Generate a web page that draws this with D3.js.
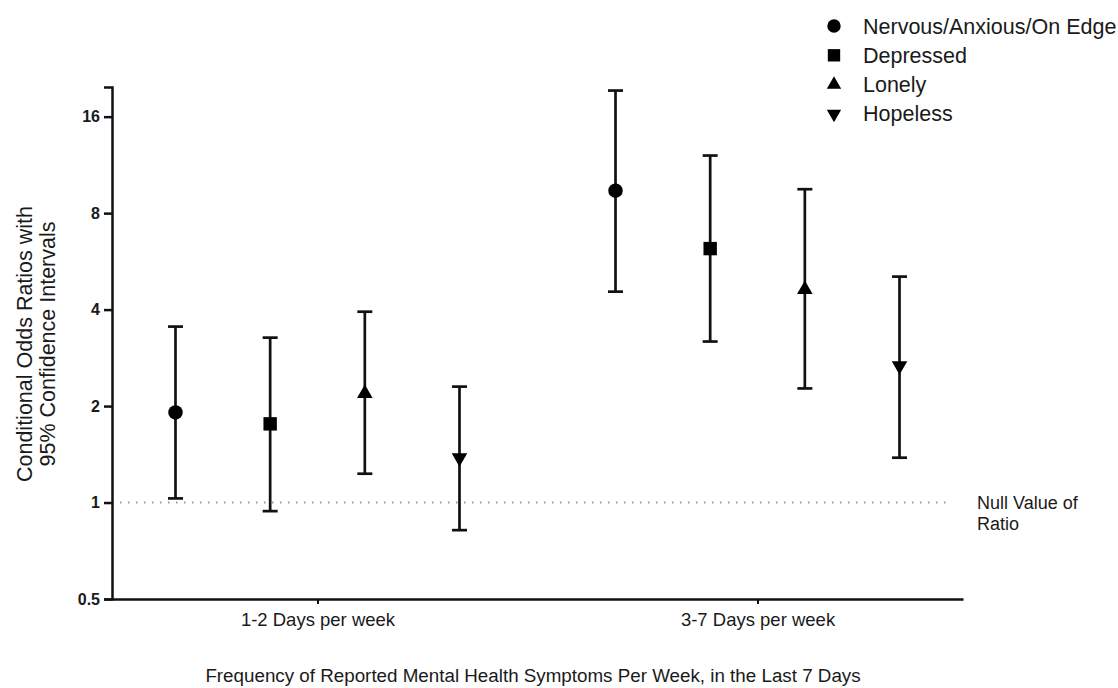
<!DOCTYPE html>
<html>
<head>
<meta charset="utf-8">
<script src="https://cdn.jsdelivr.net/npm/d3@7"></script>
<style>
  body { margin: 0; background: #fff; }
  text { font-family: "Liberation Sans", Arial, sans-serif; fill: #1a1a1a; }
</style>
</head>
<body>
<div class="chart"></div>
<script>
// data
const groups = ["1-2 Days per week", "3-7 Days per week"];
const symptoms = ["Nervous/Anxious/On Edge", "Depressed", "Lonely", "Hopeless"];
const oddsRatio = [[1.91, 1.76, 2.19, 1.38], [9.4, 6.2, 4.62, 2.67]];
const ciLow = [[1.03, 0.94, 1.23, 0.82], [4.55, 3.18, 2.27, 1.38]];
const ciHigh = [[3.54, 3.27, 3.94, 2.30], [19.3, 12.1, 9.5, 5.07]];
const yTicks = [0.5, 1, 2, 4, 8, 16];

const width = 1118;
const height = 688;
const svg = d3
  .select(".chart")
  .append("svg")
  .attr("width", width)
  .attr("height", height);

const x = d3.scalePoint().domain(groups).range([112, 963]).padding(0.467);
const offset = d3.scalePoint().domain(symptoms).range([-142, 142]);
const y = d3.scaleLog().base(2).domain([0.5, 19.8]).range([599, 87]);

const shapes = [d3.symbolCircle, d3.symbolSquare, d3.symbolTriangle, d3.symbolTriangle];
const sizes = [165, 180, 105, 105];

// points table
const rows = [];
groups.forEach((g, gi) => {
  symptoms.forEach((s, si) => {
    rows.push({ g: g, s: s, si: si, or: oddsRatio[gi][si], lo: ciLow[gi][si], hi: ciHigh[gi][si] });
  });
});

// null line
svg.append("line")
  .attr("x1", 112).attr("x2", 952)
  .attr("y1", y(1)).attr("y2", y(1))
  .attr("stroke", "#9a9a9a")
  .attr("stroke-width", 2)
  .attr("stroke-dasharray", "1.5,6.5");

svg.append("text").attr("x", 977).attr("y", y(1) + 6).attr("font-size", 18).text("Null Value of");
svg.append("text").attr("x", 977).attr("y", y(1) + 27).attr("font-size", 18).text("Ratio");

// axes
const yAxis = svg.append("g")
  .attr("transform", "translate(112,0)")
  .call(d3.axisLeft(y).tickValues(yTicks).tickFormat(d3.format("")).tickSize(8).tickPadding(4));
yAxis.select(".domain").attr("stroke", "#111").attr("stroke-width", 2.5);
yAxis.selectAll(".tick line").attr("stroke", "#111").attr("stroke-width", 2.5);
yAxis.selectAll(".tick text")
  .attr("font-size", 16).attr("font-weight", "bold").attr("fill", "#1a1a1a")
  .style("font-family", "'Liberation Sans', Arial, sans-serif");

const xAxis = svg.append("g")
  .attr("transform", "translate(0,599)")
  .call(d3.axisBottom(x).tickSize(5).tickPadding(9).tickSizeOuter(0));
xAxis.select(".domain").attr("stroke", "#111").attr("stroke-width", 2.5);
xAxis.selectAll(".tick line").attr("stroke", "#111").attr("stroke-width", 2);
xAxis.selectAll(".tick text")
  .attr("font-size", 18.5).attr("fill", "#1a1a1a")
  .style("font-family", "'Liberation Sans', Arial, sans-serif");

// error bars
const bars = svg.selectAll("g.bar")
  .data(rows)
  .enter()
  .append("g")
  .attr("class", "bar")
  .attr("transform", (d) => "translate(" + (x(d.g) + offset(d.s)) + ",0)");

bars.append("line")
  .attr("y1", (d) => y(d.lo)).attr("y2", (d) => y(d.hi))
  .attr("stroke", "#111").attr("stroke-width", 2.7);
bars.append("line")
  .attr("x1", -7.5).attr("x2", 7.5)
  .attr("y1", (d) => y(d.hi)).attr("y2", (d) => y(d.hi))
  .attr("stroke", "#111").attr("stroke-width", 2.7);
bars.append("line")
  .attr("x1", -7.5).attr("x2", 7.5)
  .attr("y1", (d) => y(d.lo)).attr("y2", (d) => y(d.lo))
  .attr("stroke", "#111").attr("stroke-width", 2.7);
bars.append("path")
  .attr("d", (d) => d3.symbol().type(shapes[d.si]).size(sizes[d.si])())
  .attr("transform", (d) => "translate(0," + y(d.or) + ")" + (d.si === 3 ? " rotate(180)" : ""))
  .attr("fill", "#000");

// legend
const legend = svg.selectAll("g.legend")
  .data(symptoms)
  .enter()
  .append("g")
  .attr("class", "legend")
  .attr("transform", (d, i) => "translate(834," + (26 + i * 29.3) + ")");
legend.append("path")
  .attr("d", (d, i) => d3.symbol().type(shapes[i]).size(sizes[i] * 0.85)())
  .attr("transform", (d, i) => (i === 3 ? "rotate(180)" : ""))
  .attr("fill", "#000");
legend.append("text")
  .attr("x", 29).attr("y", 7.5)
  .attr("font-size", 21.5)
  .text((d) => d);

// axis titles
svg.append("text")
  .attr("transform", "translate(32,344) rotate(-90)")
  .attr("text-anchor", "middle")
  .attr("font-size", 21.5)
  .text("Conditional Odds Ratios with");
svg.append("text")
  .attr("transform", "translate(55,344) rotate(-90)")
  .attr("text-anchor", "middle")
  .attr("font-size", 21.5)
  .text("95% Confidence Intervals");

svg.append("text")
  .attr("x", 533).attr("y", 682)
  .attr("text-anchor", "middle")
  .attr("font-size", 18.8)
  .text("Frequency of Reported Mental Health Symptoms Per Week, in the Last 7 Days");
</script>
</body>
</html>
